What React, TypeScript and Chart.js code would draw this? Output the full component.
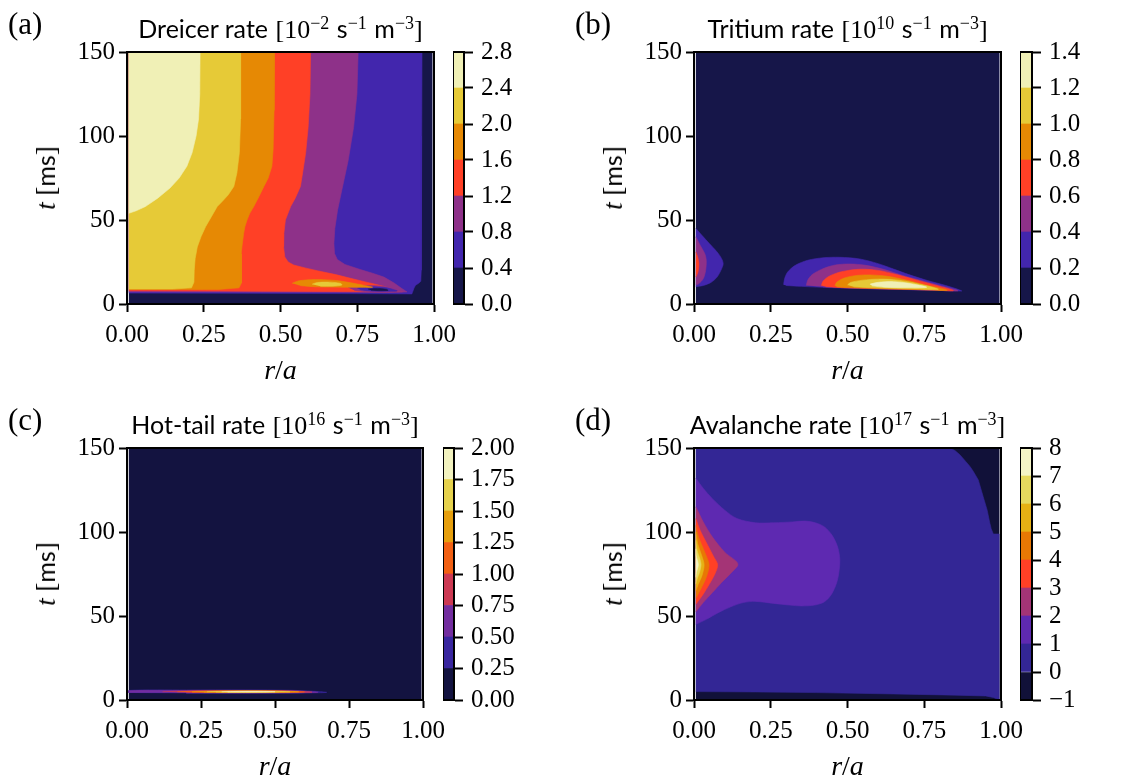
import React, { useEffect, useRef } from "react";
import { Chart, registerables } from "chart.js";

Chart.register(...registerables);

type Pt = [number, number];
type Region = { level: number; pts: Pt[] };

// ---------------- data extents ----------------
const R0 = 0.006;
const R1 = 0.994;
const T_MAX = 150;

const X_TICKS = [0, 0.25, 0.5, 0.75, 1];
const Y_TICKS = [0, 50, 100, 150];

// ---------------- contour levels ----------------
const DREICER_LEVELS = [0, 0.4, 0.8, 1.2, 1.6, 2.0, 2.4, 2.8];
const TRITIUM_LEVELS = [0, 0.2, 0.4, 0.6, 0.8, 1.0, 1.2, 1.4];
const HOTTAIL_LEVELS = [0, 0.25, 0.5, 0.75, 1.0, 1.25, 1.5, 1.75, 2.0];
const AVALANCHE_LEVELS = [-1, 0, 1, 2, 3, 4, 5, 6, 7, 8];

const FULL_DOMAIN: Pt[] = [[R0, 0], [R1, 0], [R1, T_MAX], [R0, T_MAX]];

// ---------------- (a) Dreicer: boundaries of {rate > level}, points (r/a, t) ----------------
const dreicer_04: Pt[] = [[R0, 150], [0.961, 150], [0.96, 100], [0.959, 50], [0.958, 20], [0.957, 13.5], [0.95, 12.3], [0.94, 11.2], [0.935, 9.5], [0.93, 7.0], [0.928, 6.0], [0.7, 6.2], [0.4, 6.35], [R0, 6.5]];
const dreicer_08: Pt[] = [[R0, 150], [0.753, 150], [0.749, 125], [0.738, 105], [0.72, 85], [0.7, 68], [0.686, 56], [0.677, 45], [0.674, 36], [0.676, 30], [0.685, 26.5], [0.71, 23.5], [0.76, 20.5], [0.8, 18.3], [0.837, 16], [0.87, 12.5], [0.893, 9.5], [0.912, 7.2], [0.85, 6.9], [0.6, 7.0], [0.3, 7.1], [R0, 7.2]];
const dreicer_12: Pt[] = [[R0, 150], [0.598, 150], [0.596, 125], [0.59, 105], [0.582, 90], [0.572, 78], [0.565, 70], [0.548, 63], [0.533, 58], [0.516, 50], [0.511, 42], [0.51, 34], [0.514, 28], [0.525, 25], [0.543, 23.2], [0.58, 21.5], [0.62, 19.8], [0.68, 17.5], [0.728, 15.3], [0.78, 13], [0.837, 10.5], [0.875, 8.5], [0.898, 7.4], [0.85, 7.3], [0.6, 7.5], [0.3, 7.7], [R0, 7.9]];
const dreicer_hole_08: Pt[] = [[0.72, 9.8], [0.76, 10.7], [0.81, 10.9], [0.855, 10.0], [0.885, 8.6], [0.9, 7.4], [0.85, 7.2], [0.78, 7.3], [0.74, 8.2]];
const dreicer_hole_04: Pt[] = [[0.75, 9.5], [0.79, 10.2], [0.835, 9.9], [0.865, 8.8], [0.88, 7.8], [0.84, 7.6], [0.79, 7.8], [0.76, 8.5]];
const dreicer_hole_00: Pt[] = [[0.785, 8.9], [0.815, 9.3], [0.845, 8.8], [0.85, 8.1], [0.82, 7.9], [0.795, 8.2]];
const dreicer_16: Pt[] = [[R0, 150], [0.48, 150], [0.479, 115], [0.476, 92], [0.472, 82], [0.46, 75], [0.446, 70], [0.43, 64], [0.413, 58], [0.4, 54], [0.391, 50], [0.384, 46], [0.38, 42], [0.375, 35], [0.372, 30], [0.372, 20], [0.373, 12.5], [0.365, 9.6], [0.3, 8.7], [R0, 8.6]];
const dreicer_16_island: Pt[] = [[0.538, 12.3], [0.555, 13.6], [0.59, 14.4], [0.64, 14.5], [0.69, 13.8], [0.73, 12.6], [0.77, 11.2], [0.8, 10.0], [0.76, 9.9], [0.7, 10.0], [0.62, 10.2], [0.565, 10.9]];
const dreicer_20: Pt[] = [[R0, 150], [0.37, 150], [0.37, 110], [0.366, 90], [0.358, 78], [0.348, 70], [0.33, 65], [0.31, 61], [0.294, 58], [0.275, 52], [0.256, 46], [0.241, 40], [0.229, 34], [0.222, 27], [0.219, 20], [0.218, 13], [0.21, 9.6], [0.15, 8.9], [R0, 8.9]];
const dreicer_20_island: Pt[] = [[0.603, 11.8], [0.62, 12.8], [0.66, 13.0], [0.695, 12.3], [0.7, 11.3], [0.67, 10.6], [0.63, 10.6]];
const dreicer_24: Pt[] = [[R0, 150], [0.238, 150], [0.237, 125], [0.233, 110], [0.225, 100], [0.212, 90], [0.195, 82], [0.17, 75], [0.14, 69], [0.1, 63], [0.06, 58], [0.03, 55.5], [R0, 54]];

const DREICER_REGIONS: Region[] = [
  { level: 0, pts: FULL_DOMAIN },
  { level: 0.4, pts: dreicer_04 },
  { level: 0.8, pts: dreicer_08 },
  { level: 1.2, pts: dreicer_12 },
  { level: 0.8, pts: dreicer_hole_08 },
  { level: 0.4, pts: dreicer_hole_04 },
  { level: 0, pts: dreicer_hole_00 },
  { level: 1.6, pts: dreicer_16 },
  { level: 1.6, pts: dreicer_16_island },
  { level: 2.0, pts: dreicer_20 },
  { level: 2.0, pts: dreicer_20_island },
  { level: 2.4, pts: dreicer_24 },
];

// ---------------- (b) Tritium ----------------
const tritium_left_02: Pt[] = [[R0, 45], [0.025, 41], [0.05, 36], [0.075, 31], [0.09, 27], [0.095, 24], [0.09, 21], [0.075, 16], [0.055, 12.8], [0.03, 11], [R0, 10.3]];
const tritium_left_04: Pt[] = [[R0, 40], [0.02, 35], [0.035, 30], [0.04, 26], [0.038, 20], [0.03, 15], [0.015, 12], [R0, 11.3]];
const tritium_left_06: Pt[] = [[R0, 31], [0.012, 28], [0.016, 24], [0.013, 19], [R0, 16]];
const tritium_02: Pt[] = [[0.292, 11.5], [0.295, 15], [0.305, 19], [0.33, 23], [0.37, 26], [0.42, 27.5], [0.475, 27.8], [0.54, 26.8], [0.6, 24], [0.65, 20.8], [0.7, 17.5], [0.76, 14], [0.82, 11], [0.872, 7.8], [0.85, 7.8], [0.75, 8.3], [0.6, 8.9], [0.45, 9.7], [0.35, 10.5], [0.3, 11]];
const tritium_04: Pt[] = [[0.366, 11], [0.37, 14], [0.385, 17.5], [0.42, 21], [0.46, 23.2], [0.508, 23.8], [0.56, 23], [0.62, 20.5], [0.68, 17], [0.74, 14], [0.8, 11], [0.86, 7.9], [0.8, 8.1], [0.7, 8.6], [0.55, 9.3], [0.42, 10.2]];
const tritium_06: Pt[] = [[0.415, 11], [0.42, 13.5], [0.44, 16.5], [0.48, 19.2], [0.54, 20.7], [0.6, 20], [0.66, 17.5], [0.72, 14.5], [0.78, 11.5], [0.845, 8], [0.78, 8.3], [0.65, 8.9], [0.5, 9.6], [0.43, 10.3]];
const tritium_08: Pt[] = [[0.459, 11], [0.465, 13], [0.49, 15.5], [0.53, 17], [0.573, 17.3], [0.63, 16.5], [0.69, 14.3], [0.75, 11.5], [0.825, 8.2], [0.75, 8.5], [0.62, 9.1], [0.5, 9.8], [0.465, 10.3]];
const tritium_10: Pt[] = [[0.5, 11.3], [0.51, 12.8], [0.55, 14.2], [0.6, 14.8], [0.65, 14.5], [0.71, 12.8], [0.796, 8.8], [0.72, 9], [0.6, 9.5], [0.52, 10.2]];
const tritium_12: Pt[] = [[0.573, 11.8], [0.6, 12.9], [0.649, 13.3], [0.7, 12.3], [0.758, 10], [0.7, 9.6], [0.62, 10], [0.58, 10.8]];

const TRITIUM_REGIONS: Region[] = [
  { level: 0, pts: FULL_DOMAIN },
  { level: 0.2, pts: tritium_left_02 },
  { level: 0.4, pts: tritium_left_04 },
  { level: 0.6, pts: tritium_left_06 },
  { level: 0.2, pts: tritium_02 },
  { level: 0.4, pts: tritium_04 },
  { level: 0.6, pts: tritium_06 },
  { level: 0.8, pts: tritium_08 },
  { level: 1.0, pts: tritium_10 },
  { level: 1.2, pts: tritium_12 },
];

// ---------------- (c) Hot-tail ----------------
const hottail_025: Pt[] = [[R0, 4.1], [R0, 5.7], [0.2, 5.9], [0.4, 5.95], [0.55, 5.8], [0.63, 5.2], [0.675, 4.55], [0.62, 4.2], [0.45, 4.0], [0.2, 4.0]];
const hottail_050: Pt[] = [[R0, 4.3], [R0, 5.5], [0.2, 5.7], [0.4, 5.75], [0.55, 5.55], [0.615, 5.0], [0.645, 4.6], [0.6, 4.35], [0.4, 4.2], [0.2, 4.25]];
const hottail_075: Pt[] = [[0.12, 4.9], [0.2, 5.4], [0.35, 5.55], [0.5, 5.5], [0.58, 5.2], [0.625, 4.7], [0.58, 4.45], [0.4, 4.35], [0.2, 4.45]];
const hottail_100: Pt[] = [[0.17, 4.9], [0.25, 5.3], [0.4, 5.45], [0.52, 5.35], [0.6, 4.8], [0.52, 4.5], [0.35, 4.45], [0.22, 4.55]];
const hottail_125: Pt[] = [[0.22, 4.9], [0.3, 5.25], [0.42, 5.35], [0.52, 5.2], [0.58, 4.85], [0.5, 4.6], [0.35, 4.55], [0.26, 4.65]];
const hottail_150: Pt[] = [[0.27, 4.9], [0.35, 5.2], [0.44, 5.25], [0.52, 5.05], [0.55, 4.85], [0.47, 4.65], [0.36, 4.6], [0.3, 4.7]];
const hottail_175: Pt[] = [[0.32, 4.9], [0.38, 5.1], [0.45, 5.12], [0.5, 4.95], [0.48, 4.75], [0.4, 4.7], [0.34, 4.78]];

const HOTTAIL_REGIONS: Region[] = [
  { level: 0, pts: FULL_DOMAIN },
  { level: 0.25, pts: hottail_025 },
  { level: 0.5, pts: hottail_050 },
  { level: 0.75, pts: hottail_075 },
  { level: 1.0, pts: hottail_100 },
  { level: 1.25, pts: hottail_125 },
  { level: 1.5, pts: hottail_150 },
  { level: 1.75, pts: hottail_175 },
];

// ---------------- (d) Avalanche ----------------
const avalanche_0: Pt[] = [[R0, 5.0], [0.2, 4.8], [0.4, 4.4], [0.65, 3.6], [0.85, 2.9], [0.95, 2.4], [0.975, 1.5], [0.99, 0.4], [R1, 0.4], [R1, 98.8], [0.975, 98.8], [0.968, 102], [0.964, 105], [0.955, 113], [0.942, 121], [0.926, 131], [0.91, 136], [0.899, 139], [0.885, 142], [0.866, 146], [0.85, 148.5], [0.834, 150], [R0, 150]];
const avalanche_1: Pt[] = [[R0, 132], [0.03, 126], [0.059, 120], [0.1, 113], [0.14, 108], [0.2, 105.5], [0.26, 105.5], [0.32, 106], [0.362, 106.5], [0.395, 105.5], [0.425, 103], [0.45, 98], [0.468, 91], [0.475, 83.5], [0.472, 76], [0.465, 70], [0.448, 63], [0.425, 58.5], [0.393, 56.5], [0.35, 56], [0.312, 56.5], [0.26, 57.5], [0.2, 58.7], [0.16, 58], [0.12, 55.5], [0.079, 52], [0.04, 48], [R0, 45]];
const avalanche_2: Pt[] = [[R0, 115], [0.03, 106], [0.06, 97], [0.1, 88], [0.143, 81], [0.12, 75.5], [0.09, 70], [0.06, 64], [0.03, 58], [R0, 52.5]];
const avalanche_3: Pt[] = [[R0, 108], [0.02, 101], [0.045, 92], [0.065, 85], [0.077, 80.5], [0.068, 75], [0.05, 69], [0.03, 63], [R0, 57]];
const avalanche_4: Pt[] = [[R0, 104], [0.015, 97], [0.035, 88], [0.049, 80.5], [0.04, 73], [0.022, 66], [R0, 60.5]];
const avalanche_5: Pt[] = [[R0, 100], [0.012, 93], [0.025, 86], [0.033, 80.5], [0.026, 74], [0.014, 69], [R0, 65]];
const avalanche_6: Pt[] = [[R0, 95], [0.01, 89], [0.019, 84], [0.023, 80.5], [0.018, 76], [0.01, 72], [R0, 69]];
const avalanche_7: Pt[] = [[R0, 90], [0.007, 86], [0.014, 80.5], [0.008, 76], [R0, 73]];

const AVALANCHE_REGIONS: Region[] = [
  { level: -1, pts: FULL_DOMAIN },
  { level: 0, pts: avalanche_0 },
  { level: 1, pts: avalanche_1 },
  { level: 2, pts: avalanche_2 },
  { level: 3, pts: avalanche_3 },
  { level: 4, pts: avalanche_4 },
  { level: 5, pts: avalanche_5 },
  { level: 6, pts: avalanche_6 },
  { level: 7, pts: avalanche_7 },
];

// ---------------- colour map (CMRmap) ----------------
const CMR_STOPS: number[][] = [
  [0.0, 0.0, 0.0, 0.0],
  [0.125, 0.15, 0.15, 0.5],
  [0.25, 0.3, 0.15, 0.75],
  [0.375, 0.6, 0.2, 0.5],
  [0.5, 1.0, 0.25, 0.15],
  [0.625, 0.9, 0.5, 0.0],
  [0.75, 0.9, 0.75, 0.1],
  [0.875, 0.9, 0.9, 0.5],
  [1.0, 1.0, 1.0, 1.0],
];
function cmr(x: number): string {
  for (let i = 1; i < CMR_STOPS.length; i++) {
    const a = CMR_STOPS[i - 1];
    const b = CMR_STOPS[i];
    if (x <= b[0]) {
      const f = (x - a[0]) / (b[0] - a[0]);
      const c = [1, 2, 3].map((k) => Math.round(255 * (a[k] + (b[k] - a[k]) * f)));
      return `rgb(${c[0]},${c[1]},${c[2]})`;
    }
  }
  return "rgb(255,255,255)";
}
function layerIndex(levels: number[], v: number): number {
  return Math.round((v - levels[0]) / (levels[1] - levels[0]));
}
function layerColor(levels: number[], i: number): string {
  const n = levels.length - 1;
  return cmr((2 * i + 1) / (2 * n));
}

// ---------------- styling ----------------
const SERIF = '"Liberation Serif", "DejaVu Serif", serif';
const SANS = 'Lato, "Open Sans", "DejaVu Sans", sans-serif';
const FS = 25;
const AXW = 110;
const AXH = 70;
const PADT = 20;
const PADR = 40;
const CB_AXW = 80;
const CB_PAD = 20;

const framePlugin = {
  id: "frame",
  afterDraw(chart: any) {
    const { ctx, chartArea: a } = chart;
    ctx.save();
    ctx.strokeStyle = "#000";
    ctx.lineWidth = 2;
    ctx.strokeRect(a.left, a.top, a.right - a.left, a.bottom - a.top);
    ctx.restore();
  },
};

const tickFont = { family: SERIF, size: FS };

function makeMain(canvas: HTMLCanvasElement, levels: number[], regions: Region[]) {
  const n = regions.length;
  const datasets = regions.map((reg, i) => {
    const c = layerColor(levels, layerIndex(levels, reg.level));
    // closed interior curves are smoothed; bands reaching the top edge keep straight segments
    const touchesTop = reg.pts.some((p) => p[1] >= T_MAX);
    return {
      data: reg.pts.map(([x, y]) => ({ x, y })),
      order: n - i,
      showLine: true,
      fill: "shape",
      backgroundColor: c,
      borderColor: c,
      borderWidth: 0.6,
      pointRadius: 0,
      pointHoverRadius: 0,
      pointHitRadius: 0,
      tension: touchesTop ? 0 : 0.3,
    };
  });
  return new Chart(canvas, {
    type: "scatter",
    data: { datasets } as any,
    options: {
      animation: false,
      responsive: false,
      maintainAspectRatio: false,
      events: [],
      layout: { padding: { top: PADT, right: PADR, left: 0, bottom: 0 } },
      plugins: { legend: { display: false }, tooltip: { enabled: false } },
      scales: {
        x: {
          type: "linear",
          min: 0,
          max: 1,
          afterBuildTicks: (s: any) => {
            s.ticks = X_TICKS.map((v) => ({ value: v }));
          },
          afterFit: (s: any) => {
            s.height = AXH;
            s.paddingLeft = 0;
            s.paddingRight = 0;
          },
          ticks: {
            callback: (v: any) => Number(v).toFixed(2),
            font: tickFont,
            color: "#000",
            padding: 8,
            maxRotation: 0,
            minRotation: 0,
            autoSkip: false,
          },
          grid: { drawOnChartArea: false, drawTicks: true, tickLength: 8, tickWidth: 2, tickColor: "#000" },
          border: { display: true, color: "#000", width: 2 },
        },
        y: {
          type: "linear",
          min: 0,
          max: 150,
          afterBuildTicks: (s: any) => {
            s.ticks = Y_TICKS.map((v) => ({ value: v }));
          },
          afterFit: (s: any) => {
            s.width = AXW;
            s.paddingTop = 0;
            s.paddingBottom = 0;
          },
          ticks: {
            callback: (v: any) => String(v),
            font: tickFont,
            color: "#000",
            padding: 4,
            autoSkip: false,
          },
          grid: { drawOnChartArea: false, drawTicks: true, tickLength: 8, tickWidth: 2, tickColor: "#000" },
          border: { display: true, color: "#000", width: 2 },
        },
      },
    } as any,
    plugins: [framePlugin],
  });
}

function makeColorbar(canvas: HTMLCanvasElement, levels: number[], fmt: (v: number) => string) {
  const datasets = levels.slice(0, -1).map((lo, i) => ({
    data: [[lo, levels[i + 1]]],
    backgroundColor: layerColor(levels, i),
    borderWidth: 0,
    grouped: false,
    barPercentage: 1,
    categoryPercentage: 1,
  }));
  return new Chart(canvas, {
    type: "bar",
    data: { labels: [""], datasets } as any,
    options: {
      animation: false,
      responsive: false,
      maintainAspectRatio: false,
      events: [],
      layout: { padding: { top: CB_PAD, bottom: CB_PAD, left: 0, right: 0 } },
      plugins: { legend: { display: false }, tooltip: { enabled: false } },
      scales: {
        x: { display: false },
        y: {
          type: "linear",
          position: "right",
          min: levels[0],
          max: levels[levels.length - 1],
          afterBuildTicks: (s: any) => {
            s.ticks = levels.map((v) => ({ value: v }));
          },
          afterFit: (s: any) => {
            s.width = CB_AXW;
            s.paddingTop = 0;
            s.paddingBottom = 0;
          },
          ticks: {
            callback: (v: any) => fmt(Number(v)),
            font: tickFont,
            color: "#000",
            padding: 8,
            autoSkip: false,
          },
          grid: { drawOnChartArea: false, drawTicks: true, tickLength: 9, tickWidth: 2, tickColor: "#000" },
          border: { display: true, color: "#000", width: 2 },
        },
      },
    } as any,
    plugins: [framePlugin],
  });
}

// ---------------- layout ----------------
type Spec = {
  label: string;
  name: string;
  exp: string;
  plot: [number, number, number, number];
  cb: [number, number];
  labelX: number;
  yTitleX: number;
  levels: number[];
  regions: Region[];
  fmt: (v: number) => string;
};

const minus = (s: string) => s.replace("-", "\u2212");

const PANELS: Spec[] = [
  {
    label: "(a)", name: "Dreicer rate", exp: "\u22122",
    plot: [127, 52, 307, 252], cb: [453, 11], labelX: 8, yTitleX: 46,
    levels: DREICER_LEVELS, regions: DREICER_REGIONS, fmt: (v) => v.toFixed(1),
  },
  {
    label: "(b)", name: "Tritium rate", exp: "10",
    plot: [694, 52, 307, 252], cb: [1020, 12], labelX: 575, yTitleX: 613,
    levels: TRITIUM_LEVELS, regions: TRITIUM_REGIONS, fmt: (v) => v.toFixed(1),
  },
  {
    label: "(c)", name: "Hot-tail rate", exp: "16",
    plot: [127, 448, 296, 252], cb: [443, 11], labelX: 8, yTitleX: 46,
    levels: HOTTAIL_LEVELS, regions: HOTTAIL_REGIONS, fmt: (v) => v.toFixed(2),
  },
  {
    label: "(d)", name: "Avalanche rate", exp: "17",
    plot: [694, 448, 307, 252], cb: [1020, 12], labelX: 575, yTitleX: 613,
    levels: AVALANCHE_LEVELS, regions: AVALANCHE_REGIONS, fmt: (v) => minus(String(v)),
  },
];

const Sup = ({ children }: { children: React.ReactNode }) => (
  <span style={{ fontFamily: SERIF, fontSize: "0.72em", position: "relative", top: "-0.5em" }}>{children}</span>
);
const Gap = () => <span style={{ display: "inline-block", width: "0.3em" }} />;

function Panel({ spec }: { spec: Spec }) {
  const mainRef = useRef<HTMLCanvasElement>(null);
  const cbRef = useRef<HTMLCanvasElement>(null);
  const [L, T, W, H] = spec.plot;
  const [CL, CW] = spec.cb;

  useEffect(() => {
    const charts: Chart[] = [];
    if (mainRef.current) charts.push(makeMain(mainRef.current, spec.levels, spec.regions));
    if (cbRef.current) charts.push(makeColorbar(cbRef.current, spec.levels, spec.fmt));
    return () => charts.forEach((c) => c.destroy());
  }, []);

  const mw = AXW + W + PADR;
  const mh = PADT + H + AXH;
  const cw = CW + CB_AXW;
  const ch = H + 2 * CB_PAD;
  const titleBase = T - 15;
  const cx = L + W / 2;

  return (
    <>
      <canvas
        ref={mainRef}
        width={mw}
        height={mh}
        style={{ position: "absolute", left: L - AXW, top: T - PADT, width: mw, height: mh }}
      />
      <canvas
        ref={cbRef}
        width={cw}
        height={ch}
        style={{ position: "absolute", left: CL, top: T - CB_PAD, width: cw, height: ch }}
      />
      <div
        style={{
          position: "absolute", left: spec.labelX, top: titleBase - 28, fontFamily: SERIF,
          fontSize: 31, lineHeight: "30px", whiteSpace: "nowrap",
        }}
      >
        {spec.label}
      </div>
      <div
        style={{
          position: "absolute", left: cx, top: titleBase - 21, transform: "translateX(-50%)",
          fontFamily: SANS, fontSize: 25, lineHeight: "25px", whiteSpace: "nowrap",
        }}
      >
        {spec.name}
        <Gap />
        <span style={{ fontFamily: SERIF, fontSize: 26 }}>[10</span>
        <Sup>{spec.exp}</Sup>
        <Gap />s<Sup>{"\u22121"}</Sup>
        <Gap />m<Sup>{"\u22123"}</Sup>
        <span style={{ fontFamily: SERIF, fontSize: 26 }}>]</span>
      </div>
      <div
        style={{
          position: "absolute", left: spec.yTitleX, top: T + H / 2, transform: "translate(-50%,-50%) rotate(-90deg)",
          fontSize: 27, lineHeight: "27px", whiteSpace: "nowrap",
        }}
      >
        <span style={{ fontFamily: SERIF, fontStyle: "italic" }}>t</span>
        <span style={{ fontFamily: SERIF }}> [</span>
        <span style={{ fontFamily: SANS, fontSize: 25 }}>ms</span>
        <span style={{ fontFamily: SERIF }}>]</span>
      </div>
      <div
        style={{
          position: "absolute", left: cx, top: T + H + 52, transform: "translateX(-50%)",
          fontFamily: SERIF, fontSize: 28, lineHeight: "28px", whiteSpace: "nowrap",
        }}
      >
        <i>r</i>/<i>a</i>
      </div>
    </>
  );
}

export default function App() {
  return (
    <div
      style={{
        position: "absolute", left: 0, top: 0, width: 1121, height: 776, background: "#fff",
        overflow: "hidden", color: "#000",
      }}
    >
      {PANELS.map((p) => (
        <Panel key={p.label} spec={p} />
      ))}
    </div>
  );
}
